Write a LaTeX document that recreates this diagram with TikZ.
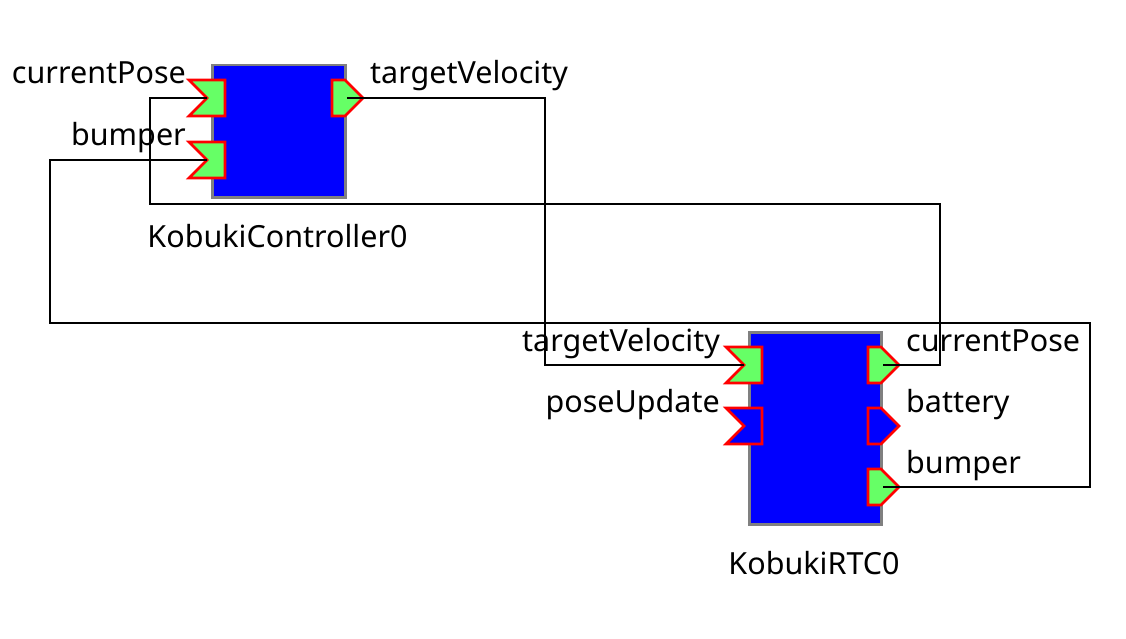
\documentclass[tikz,border=0pt]{standalone}
\usepackage{fontspec}
\setmainfont{Noto Sans}

\definecolor{compblue}{RGB}{0,0,255}
\definecolor{compgray}{RGB}{128,128,128}
\definecolor{portgreen}{RGB}{102,255,102}
\definecolor{portred}{RGB}{255,0,0}

\tikzset{
    comp/.style={draw=compgray, line width=2.5pt, fill=compblue,
        inner sep=0pt, anchor=north west},
    port/.style={draw=portred, line width=2.6pt},
    lbl/.style={inner sep=0pt, font=\fontsize{30.5}{36}\selectfont},
    wire/.style={draw=black, line width=2.4pt},
}

% #1 name, #2 box edge, #3 port top, #4 fill
\newcommand{\inport}[4]{%
    \filldraw[port, fill=#4] (#2-22,#3) -- (#2+14,#3) -- (#2+14,#3+36)
        -- (#2-22,#3+36) -- (#2-4,#3+18) -- cycle;
    \coordinate (#1) at (#2-4,#3+18);
}
\newcommand{\outport}[4]{%
    \filldraw[port, fill=#4] (#2-12,#3) -- (#2+1,#3) -- (#2+19,#3+18)
        -- (#2+1,#3+36) -- (#2-12,#3+36) -- cycle;
    \coordinate (#1) at (#2+3,#3+18);
}

\begin{document}
\begin{tikzpicture}[x=1pt,y=-1pt]

    \useasboundingbox (0,0) rectangle (1126,639);

    \node[comp,
        minimum width=133pt,
        minimum height=132pt
    ] (ctl) at (211,64){};
    \inport{ctlPoseIn}{211}{80}{portgreen}
    \inport{ctlBumpIn}{211}{142}{portgreen}
    \outport{ctlVelOut}{344}{80}{portgreen}
    \node[lbl, anchor=base east] (ctlPoseLbl) at (186,84){currentPose};
    \node[lbl, anchor=base east] (ctlBumpLbl) at (186,146){bumper};
    \node[lbl, anchor=base west] (ctlVelLbl) at (370,84){targetVelocity};
    \node[lbl, anchor=base] (ctlName) at (277.5,247){KobukiController0};

    \node[comp,
        minimum width=132pt,
        minimum height=192pt
    ] (rtc) at (748,331){};
    \inport{rtcVelIn}{748}{347}{portgreen}
    \inport{rtcUpdIn}{748}{408}{compblue}
    \outport{rtcPoseOut}{880}{347}{portgreen}
    \outport{rtcBattOut}{880}{408}{compblue}
    \outport{rtcBumpOut}{880}{469}{portgreen}
    \node[lbl, anchor=base east] (rtcVelLbl) at (720,351){targetVelocity};
    \node[lbl, anchor=base east] (rtcUpdLbl) at (720,412){poseUpdate};
    \node[lbl, anchor=base west] (rtcPoseLbl) at (906,351){currentPose};
    \node[lbl, anchor=base west] (rtcBattLbl) at (906,412){battery};
    \node[lbl, anchor=base west] (rtcBumpLbl) at (906,473){bumper};
    \node[lbl, anchor=base] (rtcName) at (814,574){KobukiRTC0};

    \draw[wire] (ctlVelOut) -| ([xshift=-199pt]rtcVelIn) -- (rtcVelIn);
    \draw[wire] (rtcPoseOut) -- ++(57,0) -- ++(0,-161)
        -| ([xshift=-57pt]ctlPoseIn) -- (ctlPoseIn);
    \draw[wire] (rtcBumpOut) -- ++(207,0) -- ++(0,-164)
        -| ([xshift=-157pt]ctlBumpIn) -- (ctlBumpIn);

\end{tikzpicture}
\end{document}
